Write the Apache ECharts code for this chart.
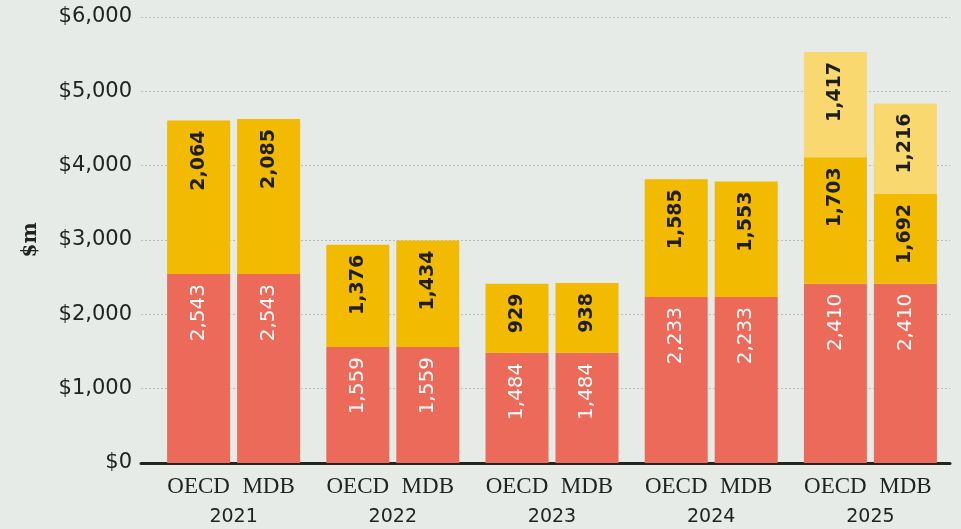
<!DOCTYPE html>
<html>
<head>
<meta charset="utf-8">
<script src="https://cdn.jsdelivr.net/npm/echarts@6/dist/echarts.min.js"></script>
<style>
  html, body { margin: 0; padding: 0; background: #e6ebe7; }
  #main { width: 961px; height: 529px; }
</style>
</head>
<body>
<div id="main"></div>
<script>
// data ($m)
const years = ['2021', '2022', '2023', '2024', '2025'];
const oecdBase = [2543, 1559, 1484, 2233, 2410];
const oecdMid = [2064, 1376, 929, 1585, 1703];
const oecdTop = [null, null, null, null, 1417];
const mdbBase = [2543, 1559, 1484, 2233, 2410];
// the 2025 MDB middle block is drawn ~1,210 tall in the original, though labelled 1,692
const mdbMid = [2085, 1434, 938, 1553, 1210];
const mdbMidText = [2085, 1434, 938, 1553, 1692];
const mdbTop = [null, null, null, null, 1216];
const yTicks = [0, 1000, 2000, 3000, 4000, 5000, 6000];

const RED = '#ec6a5a';
const YELLOW = '#f2ba00';
const LIGHT = '#f8d86f';

const fmt = v => v.toLocaleString('en-US');

function label(color, weight, size, texts) {
  return {
    show: true,
    position: 'insideTop',
    distance: 10,
    rotate: 90,
    align: 'right',
    verticalAlign: 'middle',
    color: color,
    fontFamily: 'DejaVu Sans',
    fontWeight: weight,
    fontSize: size,
    formatter: p => fmt(texts ? texts[p.dataIndex] : p.value)
  };
}

function bar(name, stack, data, color, lbl) {
  return {
    name: name,
    type: 'bar',
    stack: stack,
    xAxisIndex: 1,
    yAxisIndex: 1,
    data: data,
    barWidth: 63,
    barGap: '11.1%',
    itemStyle: { color: color },
    label: lbl,
    emphasis: { disabled: true }
  };
}

const myChart = echarts.init(document.getElementById('main'));

const option = {
  backgroundColor: '#e6ebe7',
  animation: false,
  grid: [
    { left: 141, right: 11, top: 17, bottom: 66 },
    { left: 154, right: 11, top: 17, bottom: 66 }
  ],
  xAxis: [
    {
      gridIndex: 0,
      type: 'category',
      data: [''],
      axisLine: { show: true, lineStyle: { color: '#23241f', width: 3 } },
      axisTick: { show: false },
      axisLabel: { show: false }
    },
    {
      gridIndex: 1,
      type: 'category',
      data: years,
      axisLine: { show: false },
      axisTick: { show: false },
      axisLabel: {
        margin: 9,
        formatter: y => '{a|OECD}{b|MDB}\n{y|' + y + '}',
        rich: {
          a: { width: 70, align: 'center', fontFamily: 'Liberation Serif', fontSize: 23, color: '#222', lineHeight: 30 },
          b: { width: 70, align: 'center', fontFamily: 'Liberation Serif', fontSize: 23, color: '#222', lineHeight: 30 },
          y: { width: 140, align: 'center', fontFamily: 'DejaVu Sans', fontSize: 19, color: '#222', lineHeight: 30 }
        }
      }
    }
  ],
  yAxis: [
    {
      gridIndex: 0,
      type: 'value',
      min: yTicks[0],
      max: yTicks[yTicks.length - 1],
      interval: 1000,
      name: '$m',
      nameLocation: 'middle',
      nameRotate: 90,
      nameGap: 100,
      nameTextStyle: { fontFamily: 'DejaVu Serif', fontWeight: 'bold', fontSize: 20, color: '#222' },
      axisLine: { show: false },
      axisTick: { show: false },
      axisLabel: {
        margin: 9,
        fontFamily: 'DejaVu Sans',
        fontSize: 21,
        color: '#222',
        formatter: v => '$' + fmt(v)
      },
      splitLine: { lineStyle: { color: '#b9bdba', type: [2, 2], width: 1 } }
    },
    {
      gridIndex: 1,
      type: 'value',
      min: yTicks[0],
      max: yTicks[yTicks.length - 1],
      interval: 1000,
      show: false,
      splitLine: { show: false }
    }
  ],
  series: [
    bar('OECD base', 'oecd', oecdBase, RED, label('#ffffff', 'normal', 20)),
    bar('OECD mid', 'oecd', oecdMid, YELLOW, label('#1e1e1e', 'bold', 19)),
    bar('OECD top', 'oecd', oecdTop, LIGHT, label('#1e1e1e', 'bold', 19)),
    bar('MDB base', 'mdb', mdbBase, RED, label('#ffffff', 'normal', 20)),
    bar('MDB mid', 'mdb', mdbMid, YELLOW, label('#1e1e1e', 'bold', 19, mdbMidText)),
    bar('MDB top', 'mdb', mdbTop, LIGHT, label('#1e1e1e', 'bold', 19))
  ]
};

myChart.setOption(option);
</script>
</body>
</html>
